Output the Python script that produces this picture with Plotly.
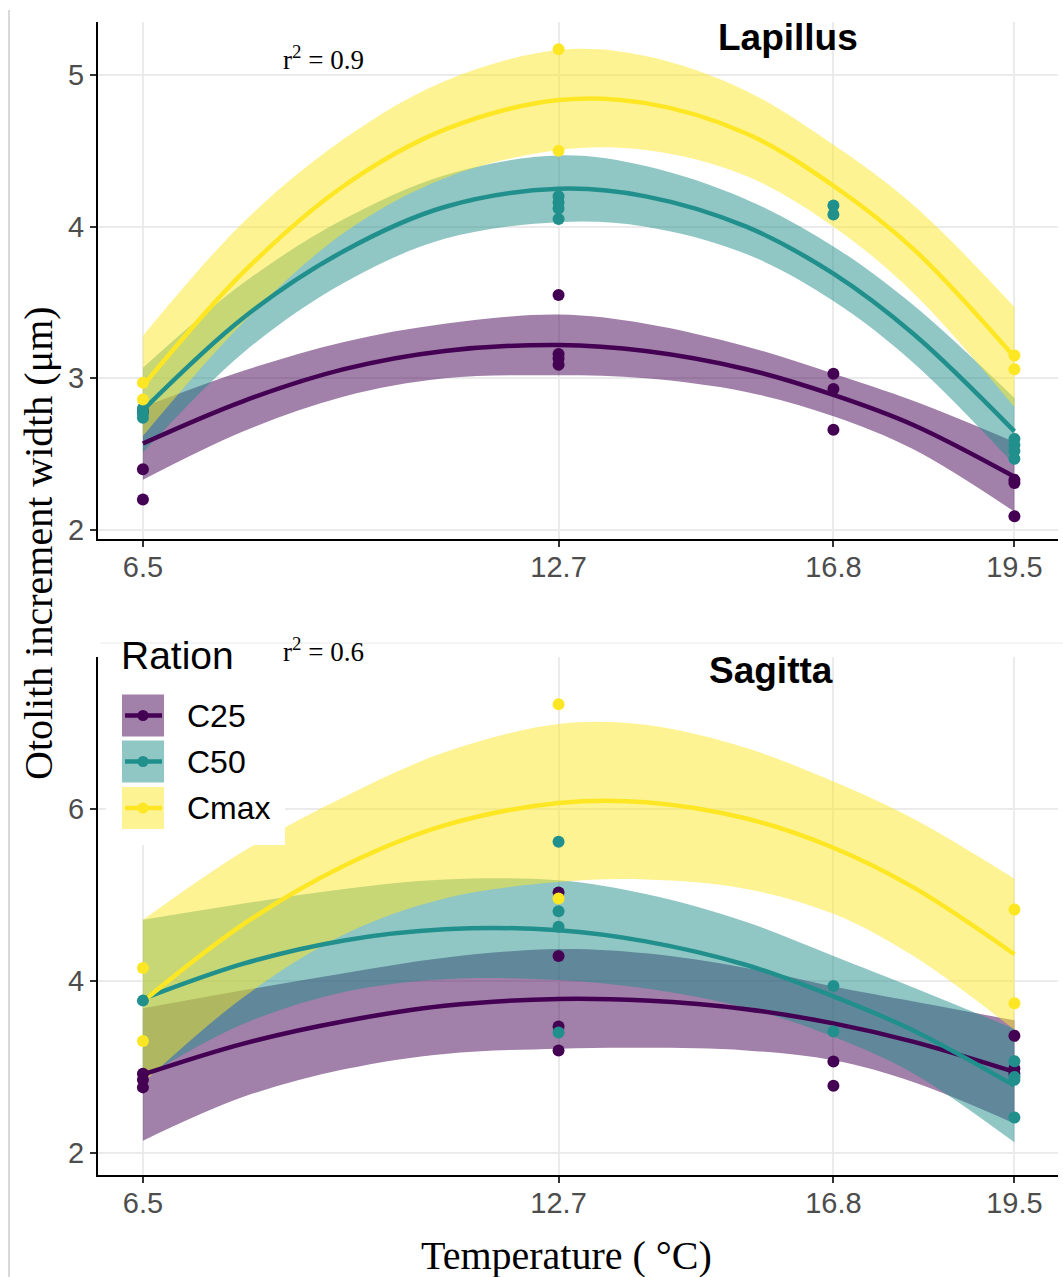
import plotly.graph_objects as go

# ---------------- data ----------------
temps = [6.5, 12.7, 16.8, 19.5]
temp_labels = ["6.5", "12.7", "16.8", "19.5"]
rations = ["C25", "C50", "Cmax"]
colors = {"C25": "#440154", "C50": "#21908C", "Cmax": "#FDE725"}
fills = {"C25": "rgba(68,1,84,0.5)", "C50": "rgba(33,144,140,0.5)", "Cmax": "rgba(253,231,37,0.5)"}

# x positions where the fitted curves / ribbons were read
x_fit = [6.5, 8.0, 9.5, 11.0, 12.7, 14.0, 15.5, 16.8, 18.0, 19.5]

# Lapillus fitted curves and confidence ribbons
lap_fit_c25 = [2.57, 2.85, 3.06, 3.18, 3.22, 3.18, 3.06, 2.89, 2.69, 2.35]
lap_lo_c25 = [2.33, 2.65, 2.88, 3.00, 3.02, 3.00, 2.91, 2.75, 2.53, 2.12]
lap_hi_c25 = [2.81, 3.05, 3.24, 3.36, 3.42, 3.36, 3.21, 3.03, 2.85, 2.58]
lap_fit_c50 = [2.79, 3.40, 3.84, 4.13, 4.25, 4.20, 4.00, 3.69, 3.29, 2.65]
lap_lo_c50 = [2.51, 3.17, 3.63, 3.92, 4.03, 4.00, 3.82, 3.51, 3.10, 2.43]
lap_hi_c50 = [3.07, 3.63, 4.05, 4.34, 4.47, 4.40, 4.18, 3.87, 3.48, 2.87]
lap_fit_cmax = [2.95, 3.70, 4.27, 4.64, 4.835, 4.815, 4.615, 4.27, 3.85, 3.14]
lap_lo_cmax = [2.62, 3.37, 3.96, 4.32, 4.505, 4.505, 4.335, 4.00, 3.56, 2.81]
lap_hi_cmax = [3.28, 4.03, 4.58, 4.96, 5.165, 5.125, 4.895, 4.54, 4.14, 3.47]

# Sagitta fitted curves and confidence ribbons
sag_fit_c25 = [2.91, 3.27, 3.53, 3.71, 3.79, 3.77, 3.67, 3.505, 3.29, 2.94]
sag_lo_c25 = [2.14, 2.65, 2.97, 3.15, 3.21, 3.22, 3.19, 3.075, 2.82, 2.34]
sag_hi_c25 = [3.68, 3.89, 4.09, 4.27, 4.37, 4.32, 4.15, 3.935, 3.76, 3.54]
sag_fit_c50 = [3.79, 4.20, 4.47, 4.60, 4.59, 4.46, 4.185, 3.82, 3.42, 2.78]
sag_lo_c50 = [2.87, 3.50, 3.87, 4.02, 4.01, 3.91, 3.685, 3.35, 2.92, 2.12]
sag_hi_c50 = [4.71, 4.90, 5.07, 5.18, 5.17, 5.01, 4.685, 4.29, 3.92, 3.44]
sag_fit_cmax = [3.76, 4.66, 5.34, 5.81, 6.07, 6.08, 5.89, 5.55, 5.085, 4.31]
sag_lo_cmax = [2.81, 3.81, 4.54, 4.96, 5.15, 5.18, 5.07, 4.78, 4.285, 3.43]
sag_hi_cmax = [4.71, 5.51, 6.14, 6.66, 6.99, 6.98, 6.71, 6.32, 5.885, 5.19]

# observed points
lap_c25_x = [6.5, 6.5, 6.5, 12.7, 12.7, 12.7, 12.7, 16.8, 16.8, 16.8, 19.5, 19.5, 19.5]
lap_c25_y = [2.78, 2.40, 2.20, 3.55, 3.16, 3.13, 3.09, 3.03, 2.93, 2.66, 2.33, 2.31, 2.09]
lap_c50_x = [6.5, 6.5, 6.5, 12.7, 12.7, 12.7, 12.7, 16.8, 16.8, 19.5, 19.5, 19.5, 19.5]
lap_c50_y = [2.80, 2.77, 2.74, 4.20, 4.16, 4.12, 4.05, 4.14, 4.08, 2.60, 2.56, 2.52, 2.47]
lap_cmax_x = [6.5, 6.5, 12.7, 12.7, 19.5, 19.5]
lap_cmax_y = [2.97, 2.86, 5.17, 4.50, 3.15, 3.06]

sag_c25_x = [6.5, 6.5, 6.5, 12.7, 12.7, 12.7, 12.7, 16.8, 16.8, 19.5, 19.5, 19.5]
sag_c25_y = [2.92, 2.85, 2.76, 5.03, 4.29, 3.47, 3.19, 3.06, 2.78, 3.36, 2.98, 2.92]
sag_c50_x = [6.5, 12.7, 12.7, 12.7, 12.7, 16.8, 16.8, 19.5, 19.5, 19.5, 19.5]
sag_c50_y = [3.77, 5.62, 4.81, 4.63, 3.40, 3.94, 3.41, 3.065, 2.88, 2.85, 2.41]
sag_cmax_x = [6.5, 6.5, 12.7, 12.7, 19.5, 19.5]
sag_cmax_y = [4.15, 3.30, 7.22, 4.96, 4.83, 3.74]

panels = [
    ("x", "y",
     {"C25": (lap_fit_c25, lap_lo_c25, lap_hi_c25),
      "C50": (lap_fit_c50, lap_lo_c50, lap_hi_c50),
      "Cmax": (lap_fit_cmax, lap_lo_cmax, lap_hi_cmax)},
     {"C25": (lap_c25_x, lap_c25_y), "C50": (lap_c50_x, lap_c50_y), "Cmax": (lap_cmax_x, lap_cmax_y)}),
    ("x2", "y2",
     {"C25": (sag_fit_c25, sag_lo_c25, sag_hi_c25),
      "C50": (sag_fit_c50, sag_lo_c50, sag_hi_c50),
      "Cmax": (sag_fit_cmax, sag_lo_cmax, sag_hi_cmax)},
     {"C25": (sag_c25_x, sag_c25_y), "C50": (sag_c50_x, sag_c50_y), "Cmax": (sag_cmax_x, sag_cmax_y)}),
]

fig = go.Figure()

for xa, ya, fits, pts in panels:
    # ribbons
    for r in rations:
        fit, lo, hi = fits[r]
        fig.add_trace(go.Scatter(x=x_fit, y=lo, xaxis=xa, yaxis=ya, mode="lines",
                                 line=dict(width=0, shape="spline", color=fills[r]),
                                 showlegend=False, hoverinfo="skip"))
        fig.add_trace(go.Scatter(x=x_fit, y=hi, xaxis=xa, yaxis=ya, mode="lines",
                                 line=dict(width=0, shape="spline", color=fills[r]),
                                 fill="tonexty", fillcolor=fills[r],
                                 showlegend=False, hoverinfo="skip"))
    # fitted lines
    for r in rations:
        fit, lo, hi = fits[r]
        fig.add_trace(go.Scatter(x=x_fit, y=fit, xaxis=xa, yaxis=ya, mode="lines",
                                 line=dict(width=4.5, shape="spline", color=colors[r]),
                                 name=r, showlegend=False))
    # points
    for r in rations:
        px_, py_ = pts[r]
        fig.add_trace(go.Scatter(x=px_, y=py_, xaxis=xa, yaxis=ya, mode="markers",
                                 marker=dict(size=12, color=colors[r]),
                                 name=r, showlegend=False))

# ---------------- layout helpers ----------------
W, H = 1063, 1277
ML, MR, MT, MB = 98, 5, 22, 102
PW, PH = W - ML - MR, H - MT - MB


def xp(px):
    return (px - ML) / PW


def yp(py):
    return (H - MB - py) / PH


sans = "Liberation Sans, Arial, sans-serif"
serif = "Liberation Serif, Times New Roman, serif"

common_x = dict(range=[5.83, 20.15], tickvals=temps, ticktext=temp_labels,
                showgrid=True, gridcolor="#EBEBEB", gridwidth=2, zeroline=False,
                showline=True, linecolor="black", linewidth=2,
                ticks="outside", ticklen=6, tickwidth=1.5, tickcolor="#333333",
                ticklabelstandoff=-5,
                tickfont=dict(family=sans, size=29, color="#4D4D4D"))
common_y = dict(showgrid=True, gridcolor="#EBEBEB", gridwidth=2, zeroline=False,
                showline=True, linecolor="black", linewidth=2,
                ticks="outside", ticklen=6, tickwidth=1.5, tickcolor="#333333",
                tickfont=dict(family=sans, size=29, color="#4D4D4D"))

fig.update_layout(
    width=W, height=H,
    margin=dict(l=ML, r=MR, t=MT, b=MB),
    paper_bgcolor="white", plot_bgcolor="white",
    showlegend=False,
    xaxis=dict(domain=[0, 1], anchor="y", **common_x),
    yaxis=dict(domain=[yp(539), 1.0], anchor="x", range=[1.94, 5.35],
               tickvals=[2, 3, 4, 5], ticktext=["2", "3", "4", "5"], **common_y),
    xaxis2=dict(domain=[0, 1], anchor="y2", **common_x),
    yaxis2=dict(domain=[0, yp(657)], anchor="x2", range=[1.74, 7.77],
                tickvals=[2, 4, 6], ticktext=["2", "4", "6"], **common_y),
)

shapes = []
# faint outer border lines
shapes.append(dict(type="line", xref="paper", yref="paper", x0=xp(9), x1=xp(9), y0=yp(10), y1=yp(1277),
                   line=dict(color="#D9D9D9", width=2), layer="above"))
shapes.append(dict(type="line", xref="paper", yref="paper", x0=xp(100), x1=xp(1063), y0=yp(643), y1=yp(643),
                   line=dict(color="#F2F2F2", width=1.5), layer="below"))
# legend background
shapes.append(dict(type="rect", xref="paper", yref="paper", x0=xp(106), x1=xp(285), y0=yp(655), y1=yp(845),
                   fillcolor="white", line=dict(width=0), layer="above"))
key_centers = {"C25": 715.5, "C50": 761.5, "Cmax": 808}
for r in rations:
    cy = key_centers[r]
    shapes.append(dict(type="rect", xref="paper", yref="paper", x0=xp(122), x1=xp(164),
                       y0=yp(cy + 21), y1=yp(cy - 21), fillcolor=fills[r], line=dict(width=0), layer="above"))
    shapes.append(dict(type="line", xref="paper", yref="paper", x0=xp(125), x1=xp(162), y0=yp(cy), y1=yp(cy),
                       line=dict(color=colors[r], width=4.5), layer="above"))
    shapes.append(dict(type="circle", xref="paper", yref="paper", x0=xp(137.5), x1=xp(148.5),
                       y0=yp(cy + 5.5), y1=yp(cy - 5.5), fillcolor=colors[r], line=dict(width=0), layer="above"))
fig.update_layout(shapes=shapes)

annotations = [
    dict(text="<b>Lapillus</b>", x=xp(788), y=yp(37), xref="paper", yref="paper", showarrow=False,
         font=dict(family=sans, size=37, color="black"), xanchor="center", yanchor="middle"),
    dict(text="<b>Sagitta</b>", x=xp(771), y=yp(670), xref="paper", yref="paper", showarrow=False,
         font=dict(family=sans, size=37, color="black"), xanchor="center", yanchor="middle"),
    dict(text="r<sup>2</sup> = 0.9", x=xp(281), y=yp(58), xref="paper", yref="paper", showarrow=False,
         font=dict(family=serif, size=27, color="black"), xanchor="left", yanchor="middle"),
    dict(text="r<sup>2</sup> = 0.6", x=xp(281), y=yp(650), xref="paper", yref="paper", showarrow=False,
         font=dict(family=serif, size=27, color="black"), xanchor="left", yanchor="middle"),
    dict(text="Otolith increment width (μm)", x=xp(38), y=yp(543), xref="paper", yref="paper",
         showarrow=False, textangle=-90, font=dict(family=serif, size=40, color="black"),
         xanchor="center", yanchor="middle"),
    dict(text="Temperature ( °C)", x=xp(566), y=yp(1255), xref="paper", yref="paper", showarrow=False,
         font=dict(family=serif, size=40, color="black"), xanchor="center", yanchor="middle"),
    dict(text="Ration", x=xp(119), y=yp(655), xref="paper", yref="paper", showarrow=False,
         font=dict(family=sans, size=39, color="black"), xanchor="left", yanchor="middle"),
]
for r in rations:
    annotations.append(dict(text=r, x=xp(185), y=yp(key_centers[r]), xref="paper", yref="paper",
                            showarrow=False, font=dict(family=sans, size=32, color="black"),
                            xanchor="left", yanchor="middle"))
fig.update_layout(annotations=annotations)

fig.write_html("out.html")
